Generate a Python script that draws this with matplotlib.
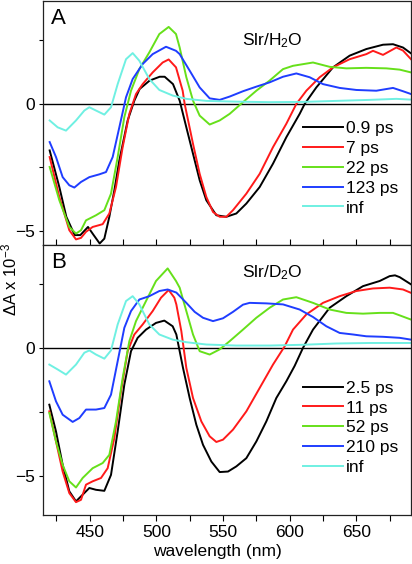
import matplotlib
matplotlib.use("Agg")
import matplotlib.pyplot as plt
from matplotlib.ticker import MultipleLocator

plt.rcParams['font.family'] = ['Liberation Sans', 'DejaVu Sans']
plt.rcParams['mathtext.fontset'] = 'custom'
plt.rcParams['mathtext.rm'] = 'Liberation Sans'
plt.rcParams['mathtext.default'] = 'regular'

# ---- panel A: Slr/H2O ----
a_labels = ["0.9 ps", "7 ps", "22 ps", "123 ps", "inf"]

a_black_wl = [420, 427.25, 432.5, 438.75, 443, 448.75, 453, 457.5, 461, 464.75, 468.5, 472.25, 478.5,
              483.5, 487.5, 495, 502.5, 506.25, 512.5, 517.5, 522.5, 527.5, 532.5, 537.5, 545, 552.5,
              560, 567.5, 577.5, 587.5, 597.5, 607.5, 611.25, 620, 632.5, 645, 657.5, 670, 677.5, 685, 691]
a_black = [-1.83, -3.27, -4.44, -5.16, -5.16, -4.84, -5.16, -5.49, -5.3, -4.44, -3.4, -2.22, -0.65,
           0.13, 0.59, 0.92, 1.07, 1.07, 0.78, 0.13, -0.92, -1.96, -3.00, -3.79, -4.38, -4.44,
           -4.31, -3.92, -3.27, -2.35, -1.31, -0.39, 0.0, 0.65, 1.44, 1.90, 2.16, 2.33, 2.35, 2.22, 1.99]

a_red_wl = [420, 427.25, 434.75, 439.75, 443.5, 447.25, 452.25, 459.75, 464.75, 469.75, 474.75, 479.75,
            484.75, 489.75, 497.25, 504.75, 509.25, 514.75, 519.75, 521.25, 527.5, 532.5, 537.5, 542.5,
            547.5, 552.5, 557.5, 567.5, 577.5, 587.5, 597.5, 605, 612.5, 622.5, 632.5, 645, 657.5,
            662.5, 670, 680, 685, 691]
a_red = [-2.09, -3.66, -4.97, -5.33, -5.27, -5.03, -4.84, -4.73, -4.31, -3.27, -1.70, -0.39,
         0.39, 0.78, 1.24, 1.63, 1.75, 1.44, 0.52, 0.0, -1.57, -2.75, -3.66, -4.25,
         -4.44, -4.44, -4.18, -3.53, -2.75, -1.70, -0.78, 0.0, 0.52, 1.05, 1.44, 1.76, 1.96,
         2.09, 1.93, 2.22, 2.10, 1.76]

a_green_wl = [420, 427.25, 434.75, 439.75, 443.5, 447.25, 454.75, 461, 466, 471, 476, 481, 487.25,
              494.75, 502.25, 509.25, 514.75, 517.5, 522.5, 527.5, 532.5, 540, 547.5, 555, 565, 575,
              585, 595, 602.5, 617.5, 630, 642.5, 657.5, 672.5, 682.5, 691]
a_green = [-2.48, -3.79, -4.84, -5.10, -4.97, -4.58, -4.38, -4.18, -3.53, -2.09, -0.52, 0.52, 1.37,
           2.03, 2.75, 3.03, 2.75, 2.22, 1.05, 0.13, -0.46, -0.81, -0.65, -0.39, 0.07, 0.52,
           0.92, 1.37, 1.50, 1.63, 1.46, 1.40, 1.42, 1.40, 1.35, 1.24]

a_blue_wl = [420, 424.75, 429.75, 434.75, 438.5, 443.5, 449.75, 457.25, 462.25, 467.25, 472.25, 477.25,
             482.25, 489.75, 497.25, 507.25, 514.75, 517.5, 525, 532.5, 540, 547.5, 555, 565, 575,
             585, 595, 605, 615, 625, 637.5, 650, 665, 677.5, 685, 691]
a_blue = [-1.50, -2.09, -2.88, -3.20, -3.29, -3.07, -2.88, -2.77, -2.68, -2.09, -0.92, 0.26,
          0.98, 1.57, 1.96, 2.25, 2.09, 1.96, 1.31, 0.65, 0.22, 0.16, 0.29, 0.50, 0.68,
          0.85, 1.07, 1.20, 1.05, 0.78, 0.63, 0.55, 0.52, 0.63, 0.50, 0.39]

a_cyan_wl = [420, 426, 432.25, 439.75, 446, 449.75, 454.75, 461, 466, 471, 477.25, 482.25, 487.25,
             494.75, 502.25, 512.25, 522.5, 537.5, 560, 585, 610, 635, 660, 680, 691]
a_cyan = [-0.65, -0.92, -1.05, -0.65, -0.26, -0.13, -0.26, -0.42, -0.13, 0.78, 1.76, 2.0, 1.70,
          0.98, 0.55, 0.33, 0.20, 0.12, 0.09, 0.07, 0.08, 0.12, 0.16, 0.20, 0.17]

# ---- panel B: Slr/D2O ----
b_labels = ["2.5 ps", "11 ps", "52 ps", "210 ps", "inf"]

b_black_wl = [419.75, 424.75, 429.75, 434.75, 439.75, 444.75, 449.75, 454.75, 461, 466, 471, 476, 481,
              486, 492.25, 499.75, 506, 512.25, 515, 520, 525, 530, 535, 541.25, 547.5, 553.75, 560,
              567.5, 575, 582.5, 590, 597.5, 603.75, 610, 617.5, 630, 642.5, 655, 667.5, 675, 679,
              682.5, 691]
b_black = [-2.21, -3.25, -4.55, -5.58, -5.97, -5.71, -5.45, -5.52, -5.56, -4.94, -3.25, -1.43, -0.13,
           0.39, 0.71, 0.97, 1.06, 0.84, 0.52, -0.78, -1.95, -2.99, -3.77, -4.42, -4.83, -4.81, -4.61,
           -4.29, -3.64, -2.86, -1.95, -1.3, -0.7, 0.0, 0.71, 1.56, 2.01, 2.40, 2.60, 2.79, 2.82,
           2.75, 2.47]

b_red_wl = [419.75, 424.75, 429.75, 434.75, 439.75, 443.5, 447.25, 452.25, 458.5, 463.5, 468.5, 473.5,
            478.5, 483.5, 489.75, 497.25, 503.5, 509.25, 513.5, 515, 518.75, 522.5, 527.5, 533.75,
            540, 545, 550, 557.5, 567.5, 577.5, 587.5, 596.25, 602.5, 612.5, 625, 637.5, 650,
            662.5, 675, 685, 691]
b_red = [-2.47, -3.64, -4.81, -5.65, -6.0, -5.91, -5.32, -5.19, -5.06, -4.68, -3.51, -1.69,
         -0.13, 0.52, 0.91, 1.43, 1.95, 2.25, 1.95, 1.69, 0.65, -0.78, -1.95, -2.86,
         -3.44, -3.66, -3.57, -3.18, -2.47, -1.56, -0.65, 0.06, 0.71, 1.30, 1.75, 2.01, 2.21,
         2.31, 2.34, 2.27, 2.14]

b_green_wl = [419.75, 424.75, 429.75, 434.75, 439.75, 444.75, 452.25, 459.75, 464.75, 469.75, 474.75,
              479.75, 484.75, 489.75, 499.75, 508.5, 514.75, 517.5, 522.5, 527.5, 532.5, 540, 547.5,
              555, 565, 575, 585, 595, 605, 617.5, 630, 642.5, 655, 667.5, 677.5, 691]
b_green = [-2.53, -3.64, -4.55, -5.19, -5.43, -5.06, -4.68, -4.48, -4.16, -2.86, -1.17,
           0.26, 1.04, 1.56, 2.60, 3.09, 2.60, 2.34, 1.43, 0.52, -0.13, -0.26, -0.06,
           0.26, 0.71, 1.17, 1.56, 1.88, 1.97, 1.75, 1.49, 1.36, 1.33, 1.36, 1.36, 1.10]

b_blue_wl = [419.75, 424.75, 429.75, 437.25, 442.25, 447.25, 454.75, 461, 466, 471, 476, 481, 487.25,
             494.75, 502.25, 508.5, 515, 522.5, 528.75, 535, 542.5, 550, 557.5, 565, 570, 582.5,
             595, 607.5, 617.5, 627.5, 637.5, 647.5, 657.5, 670, 682.5, 691]
b_blue = [-1.30, -2.08, -2.60, -2.88, -2.73, -2.40, -2.40, -2.34, -1.82, -0.52, 0.78, 1.43, 1.88,
          2.01, 2.21, 2.27, 2.15, 1.75, 1.40, 1.17, 1.04, 1.15, 1.40, 1.68, 1.75, 1.73,
          1.69, 1.49, 1.20, 0.84, 0.58, 0.52, 0.45, 0.43, 0.39, 0.32]

b_cyan_wl = [419.75, 426, 432.25, 439.75, 446, 449.75, 454.75, 461, 466, 471, 477.25, 482.25, 487.25,
             494.75, 502.25, 512.25, 522.5, 537.5, 560, 585, 610, 635, 660, 691]
b_cyan = [-0.65, -0.84, -1.04, -0.65, -0.19, -0.10, -0.26, -0.42, -0.10, 0.91, 1.82, 2.01, 1.69,
          0.91, 0.52, 0.32, 0.22, 0.13, 0.09, 0.09, 0.12, 0.17, 0.19, 0.19]

colors = ["black", "#ff1a1a", "#66e01a", "#1f3dff", "#6ff0e2"]


def draw_panel(ax, series, labels, ylim, letter, letter_y, solvent, solvent_y, leg_top):
    ax.axhline(0, color="black", lw=1.0, zorder=1)
    for (wl, vals), c, lab in zip(series, colors, labels):
        ax.plot(wl, vals, color=c, lw=1.4, label=lab, zorder=2)
    ax.set_xlim(415, 691)
    ax.set_ylim(*ylim)
    ax.xaxis.set_major_locator(MultipleLocator(50))
    ax.xaxis.set_minor_locator(MultipleLocator(25))
    ax.yaxis.set_major_locator(MultipleLocator(5))
    ax.yaxis.set_minor_locator(MultipleLocator(2.5))
    ax.tick_params(axis="y", which="both", direction="out", length=3, width=0.8,
                   labelsize=12.5, pad=3)
    for s in ax.spines.values():
        s.set_linewidth(0.9)
        s.set_color("#222222")
    ax.text(0.022, letter_y, letter, transform=ax.transAxes, fontsize=16, va="center", ha="left")
    ax.text(0.541, solvent_y, solvent, transform=ax.transAxes, fontsize=12.5, va="center", ha="left")
    ax.legend(loc="upper left", bbox_to_anchor=(0.7065, leg_top), frameon=False,
              fontsize=12.5, handlelength=2.3, handletextpad=0.15, labelspacing=0.27,
              borderpad=0, borderaxespad=0)


fig = plt.figure(figsize=(4.12, 5.64), dpi=100)
left = 43 / 412
width = 368 / 412
axA = fig.add_axes([left, 1 - 245 / 564, width, 244 / 564])
axB = fig.add_axes([left, 1 - 515 / 564, width, 270 / 564])

draw_panel(axA,
           [(a_black_wl, a_black), (a_red_wl, a_red), (a_green_wl, a_green),
            (a_blue_wl, a_blue), (a_cyan_wl, a_cyan)],
           a_labels, (-5.55, 4.05), "A", 0.929, "Slr/H$_2$O", 0.837, 0.508)
draw_panel(axB,
           [(b_black_wl, b_black), (b_red_wl, b_red), (b_green_wl, b_green),
            (b_blue_wl, b_blue), (b_cyan_wl, b_cyan)],
           b_labels, (-6.5, 4.0), "B", 0.935, "Slr/D$_2$O", 0.896, 0.498)

axA.tick_params(axis="x", which="both", direction="in", length=4, width=0.8, labelbottom=False)
axB.tick_params(axis="x", which="both", direction="out", length=4, width=0.8,
                labelsize=12.5, pad=3)

fig.text(217 / 412, 0.022, "wavelength (nm)", ha="center", va="center", fontsize=12.5)
fig.text(0.022, 0.505, "ΔA x 10$^{-3}$", ha="center", va="center", rotation=90, fontsize=12)

fig.savefig("out.png", dpi=100)
